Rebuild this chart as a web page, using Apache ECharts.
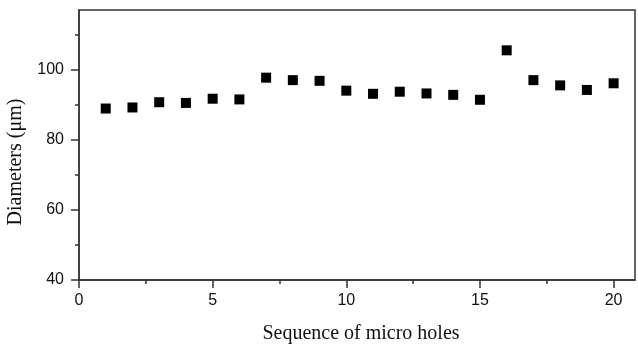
<!DOCTYPE html>
<html>
<head>
<meta charset="utf-8">
<script src="https://cdn.jsdelivr.net/npm/echarts@6/dist/echarts.min.js"></script>
<style>
  html, body { margin: 0; padding: 0; background: #fff; }
  #chart { width: 638px; height: 347px; }
</style>
</head>
<body>
<div id="chart"></div>
<script>
var holes = [1, 2, 3, 4, 5, 6, 7, 8, 9, 10, 11, 12, 13, 14, 15, 16, 17, 18, 19, 20];
var diameters = [88.9, 89.2, 90.7, 90.5, 91.7, 91.5, 97.7, 97.0, 96.8, 94.0,
                 93.1, 93.7, 93.2, 92.8, 91.4, 105.5, 97.0, 95.5, 94.2, 96.1];
var xMajor = [0, 5, 10, 15, 20];
var xMinor = [2.5, 7.5, 12.5, 17.5];
var yMajor = [40, 60, 80, 100];
var yMinor = [50, 70, 90, 110];

var points = [];
for (var i = 0; i < holes.length; i++) {
    points.push([holes[i], diameters[i]]);
}

var lineColor = '#333';
var labelFont = { color: '#111', fontFamily: 'Liberation Sans', fontSize: 16 };
var nameFont = { fontFamily: 'Liberation Serif', fontSize: 20, color: '#111' };

var myChart = echarts.init(document.getElementById('chart'));

option = {
    animation: false,
    grid: {
        left: 79, right: 3, top: 10, bottom: 67,
        outerBoundsMode: 'none',
        show: true, borderColor: lineColor, borderWidth: 1.5, backgroundColor: '#fff'
    },
    xAxis: [
        {
            type: 'value', min: 0, max: 20.8,
            name: 'Sequence of micro holes', nameLocation: 'middle', nameGap: 44,
            nameTextStyle: Object.assign({ padding: [0, 0, 0, 8] }, nameFont),
            axisLine: { lineStyle: { color: lineColor, width: 1.5 } },
            axisTick: { customValues: xMajor, length: 8, lineStyle: { color: lineColor, width: 1.5 } },
            axisLabel: Object.assign({ customValues: xMajor, margin: 13 }, labelFont),
            splitLine: { show: false }
        },
        {
            type: 'value', min: 0, max: 20.8, position: 'bottom',
            axisLine: { show: false },
            axisTick: { customValues: xMinor, length: 4, lineStyle: { color: lineColor, width: 1.5 } },
            axisLabel: { show: false },
            splitLine: { show: false }
        }
    ],
    yAxis: [
        {
            type: 'value', min: 40, max: 117,
            name: 'Diameters (μm)', nameLocation: 'middle', nameGap: 53,
            nameTextStyle: Object.assign({ padding: [0, 34, 0, 0] }, nameFont),
            axisLine: { show: true, lineStyle: { color: lineColor, width: 1.5 } },
            axisTick: { show: true, customValues: yMajor, length: 8, lineStyle: { color: lineColor, width: 1.5 } },
            axisLabel: Object.assign({ customValues: yMajor, margin: 15 }, labelFont),
            splitLine: { show: false }
        },
        {
            type: 'value', min: 40, max: 117, position: 'left',
            axisLine: { show: false },
            axisTick: { show: true, customValues: yMinor, length: 4, lineStyle: { color: lineColor, width: 1.5 } },
            axisLabel: { show: false },
            splitLine: { show: false }
        }
    ],
    series: [
        {
            name: 'diameter',
            type: 'scatter',
            symbol: 'rect',
            symbolSize: 10,
            itemStyle: { color: '#000', opacity: 1 },
            data: points
        }
    ]
};

myChart.setOption(option);
</script>
</body>
</html>
